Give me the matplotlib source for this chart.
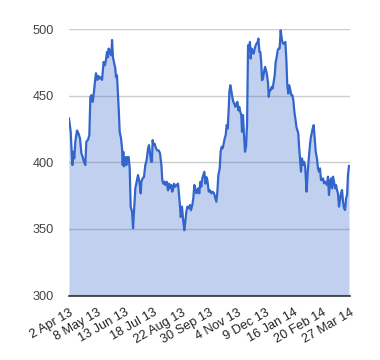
import matplotlib
matplotlib.use("Agg")
import matplotlib.pyplot as plt

# trading-session index and price
session = [0.0, 1.5, 3.0, 3.9, 4.7, 5.6, 7.1, 8.3, 9.8, 11.0, 12.2, 13.3, 14.5, 15.4, 16.9, 18.1,
           19.0, 19.9, 21.1, 22.2, 23.4, 24.0, 25.2, 26.1, 27.3, 28.2, 29.4,
           30.8, 32.0, 32.9, 33.8, 34.7, 35.3, 36.2, 37.1, 37.7, 38.3, 39.1, 40.0, 41.2, 41.8, 42.7,
           43.3, 44.2, 45.1, 46.3, 47.2, 47.8, 48.3, 48.9, 50.1, 51.0, 51.9, 53.1, 54.0, 54.9, 56.1,
           57.0, 57.8, 59.0, 60.2, 61.4,
           62.6, 63.8, 64.4, 65.5, 66.7, 67.9, 69.1, 70.3, 71.2, 72.1, 73.0, 73.8, 74.4, 75.3, 76.2,
           77.4, 78.6, 79.8, 81.0, 82.2, 83.0, 83.9, 84.8, 85.7, 86.9, 88.1, 89.0, 89.9, 91.1, 91.9, 93.1,
           93.4, 94.6, 95.8, 97.0, 97.9, 98.8, 99.4, 100.5, 101.7, 102.6, 103.5, 104.4, 105.3, 106.5,
           107.7, 108.5, 109.7, 110.6, 111.5, 112.4, 113.3, 114.2, 115.1, 115.9, 116.9, 117.7, 118.6,
           119.5, 120.4, 121.3, 122.2, 123.1, 124.3,
           125.5, 126.6, 127.8, 129.0, 130.2, 131.1, 132.0, 132.9, 134.1, 134.9, 135.8, 136.7, 137.6,
           138.5, 139.4, 140.3, 141.2, 142.1, 142.7, 143.5, 144.4, 145.3, 146.2, 147.1, 148.0, 148.9,
           149.8, 150.7, 151.5, 152.4, 153.3, 153.9, 154.8, 155.7, 156.6,
           157.5, 158.4, 159.3, 160.1, 161.0, 161.6, 162.5, 163.4, 164.3, 165.2, 166.1, 167.0, 167.9,
           168.5, 169.4, 170.2, 171.1, 171.7, 172.6, 173.5, 174.4, 175.3, 176.2, 177.1, 177.7, 178.5,
           179.4, 180.3, 181.2, 182.1, 183.0, 183.9, 184.8, 185.7, 186.5, 187.4, 188.3,
           189.5, 190.4, 191.6, 192.5, 193.4, 194.2, 195.1, 196.0, 196.9, 197.8, 198.7, 199.6, 200.5,
           201.4, 202.3, 203.1, 204.0, 204.6, 205.5, 206.4, 207.3, 208.2, 209.1, 210.0, 210.9, 211.4,
           212.3, 213.2, 214.1, 215.0, 215.9, 216.8, 217.7, 218.6, 219.5,
           220.6, 221.5, 222.4, 223.3, 224.2, 225.1, 226.0, 226.9, 227.8, 228.7, 229.5, 230.4, 231.3,
           232.2, 233.1, 234.0, 234.9, 235.8, 236.7, 237.6, 238.4, 239.3, 240.2, 241.1, 242.0, 242.9,
           243.8, 244.7, 245.6, 246.5, 247.4, 248.2, 249.1]
price = [433, 423, 398, 408, 403, 415.5, 424, 422, 418, 407, 404, 400.5, 398, 415.5, 417, 420.5,
         449, 450.5, 445.5, 453, 463, 467, 462, 465, 463, 464, 462,
         475.5, 473, 477, 483, 479, 485.5, 482, 484, 480.5, 492, 479, 475.5, 470.5, 464, 465.5,
         455.5, 440.5, 423, 418, 410.5, 398, 408, 397, 404, 398, 404, 404, 395.5, 366.5, 363,
         350.5, 363, 380.5, 385.5, 390.5,
         385.5, 376.75, 385.5, 388, 389, 398, 401.75, 410.5, 413, 406.75, 400.5, 400.5, 416.75, 413, 414,
         410.5, 409, 409, 406.75, 398, 386.75, 384, 385.5, 383, 385.5, 379, 384, 380.5, 383, 378, 381.75,
         384, 381.75, 383, 384, 375.5, 366.75, 359, 366.75, 355.5, 349, 355.5, 363, 366.75, 365.5,
         368, 364, 368, 373, 383, 380.5, 376.75, 379, 380.5, 376.75, 385.5, 381.75, 388,
         390.5, 393, 384, 389, 386.75, 378,
         379, 376.75, 378, 376.75, 373, 370.5, 378, 390.5, 395.5, 408, 411.75, 410.5, 414,
         418, 420.5, 428, 425.5, 440.5, 453, 458, 454, 449, 445.5, 444, 441.75, 444,
         445.5, 439, 441.75, 438, 435.5, 423, 435.5, 420.5, 408,
         412, 428, 488, 484, 490.5, 478, 485.5, 483, 481.75, 485.5, 488, 489.5, 490.5,
         493, 483, 483, 474.25, 461.75, 463, 468, 471.75, 469.25, 465.5, 459.25, 449.25, 454.25,
         454.25, 456.75, 455.5, 460.5, 465.5, 475.5, 479.25, 484.25, 485.5, 485.5, 499.25,
         491.75, 489.25, 489.25, 490.5, 476.75, 458, 451.75, 458, 454.25, 450.5, 450.5, 446.75, 438,
         433, 426.75, 424.25, 421.75, 413, 403, 393, 403, 398, 400.5, 398, 385.5, 378,
         391.75, 401.75, 410.5, 418, 421.75, 425.5, 428, 418, 408,
         403, 395.5, 393, 395.5, 386.75, 386.75, 388, 384.25, 385.5, 384.25, 383, 389.25, 375.5,
         385.5, 388, 380.5, 389.25, 385.5, 380.5, 383, 379.25, 376.75, 366.75, 371.75, 376.75, 379.25,
         370.5, 365.5, 364.25, 373, 375.5, 390.5, 397.25]

tick_sessions = [0, 25, 50, 75, 100, 125, 150, 175, 200, 225, 250]
tick_labels = ["2 Apr 13", "8 May 13", "13 Jun 13", "18 Jul 13", "22 Aug 13", "30 Sep 13",
               "4 Nov 13", "9 Dec 13", "16 Jan 14", "20 Feb 14", "27 Mar 14"]
y_ticks = [300, 350, 400, 450, 500]

plt.rcParams['font.family'] = ['Liberation Sans', 'DejaVu Sans']

fig = plt.figure(figsize=(3.8, 3.6), dpi=100)
ax = fig.add_axes([69/380, 64.5/360, 281/380, 266.2/360])

line_color = "#3366cc"
ax.fill_between(session, 300, price, color=line_color, alpha=0.3, linewidth=0, zorder=2)
ax.plot(session, price, color=line_color, linewidth=1.6, zorder=3)

ax.set_xlim(0, 250)
ax.set_ylim(300, 500)
ax.set_yticks(y_ticks)
ax.set_yticklabels([str(v) for v in y_ticks], fontsize=9.2, color="#444444")
ax.yaxis.grid(True, color="#cccccc", linewidth=1, zorder=1)
ax.set_axisbelow(True)
ax.tick_params(axis='y', length=0, pad=11)
ax.set_xticks(tick_sessions)
ax.set_xticklabels(tick_labels, rotation=30, ha='right', va='top', rotation_mode='anchor',
                   fontsize=9.2, color="#222222")
ax.tick_params(axis='x', length=0, pad=8)

for s in ['top', 'right', 'left']:
    ax.spines[s].set_visible(False)
ax.spines['bottom'].set_color("#333333")
ax.spines['bottom'].set_linewidth(1.2)
ax.spines['bottom'].set_zorder(4)

fig.savefig("out.png", dpi=100)
